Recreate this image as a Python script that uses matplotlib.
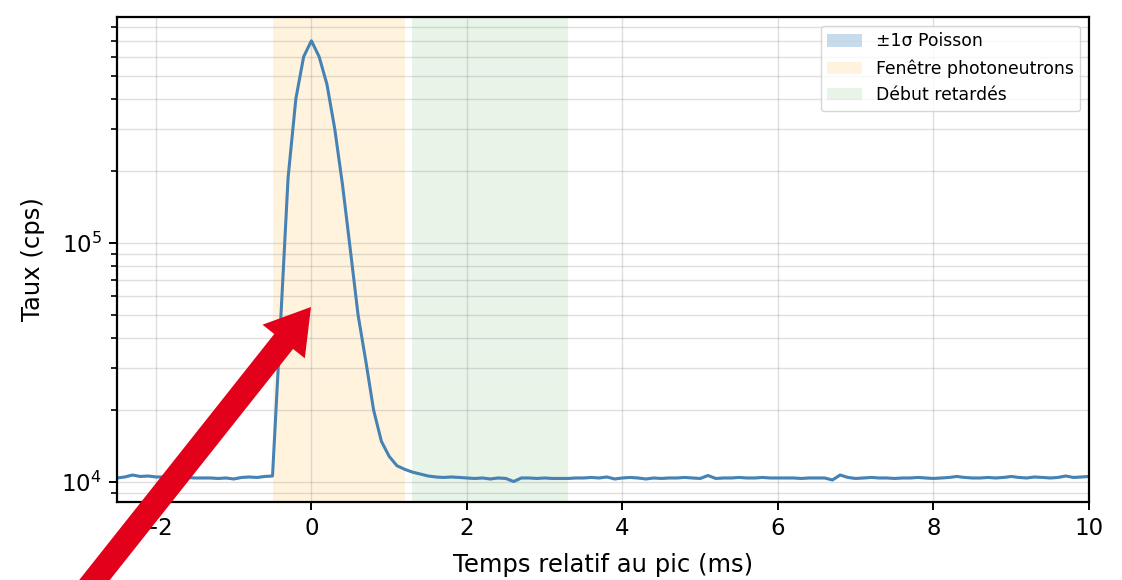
"""Count-rate profile around the pulse peak, log scale, with the analysis windows."""

from __future__ import annotations

import matplotlib

matplotlib.use("Agg")

import matplotlib.pyplot as plt
import numpy as np
from matplotlib.patches import FancyArrow
from matplotlib.transforms import IdentityTransform

# time grid (ms, relative to the peak), 0.1 ms bins
time_ms = np.round(np.arange(-25, 101) / 10.0, 1)

rate_before = [
    10400, 10500, 10700, 10550, 10600, 10500, 10500, 10450, 10500, 10450,
    10400, 10400, 10400, 10350, 10400, 10300, 10450, 10500, 10450, 10550,
    10600,
]
rate_pulse = [
    44000, 187000, 400000, 600000, 700000, 600000, 460000, 300000, 175000,
    94000, 50000, 32000, 20000, 14800, 12800, 11700, 11300, 11000, 10800,
    10600,
]
rate_after = [
    10500, 10450, 10500, 10450, 10400, 10350, 10400, 10300, 10400, 10350,
    10050, 10400, 10400, 10350, 10400, 10350, 10350, 10350, 10400, 10400,
    10450, 10400, 10500, 10300, 10400, 10450, 10400, 10300, 10400, 10350,
    10400, 10400, 10450, 10400, 10350, 10650, 10350, 10400, 10400, 10450,
    10400, 10400, 10450, 10400, 10400, 10400, 10400, 10350, 10400, 10400,
    10400, 10200, 10700, 10450, 10350, 10400, 10450, 10400, 10400, 10350,
    10400, 10400, 10450, 10400, 10350, 10400, 10450, 10550, 10450, 10400,
    10400, 10450, 10400, 10450, 10550, 10450, 10400, 10500, 10450, 10400,
    10450, 10600, 10450, 10500, 10550,
]

photoneutron_window = (-0.5, 1.2)
delayed_window = (1.3, 3.3)

W, H, DPI = 1122, 580, 100


def main() -> None:
    rate = np.asarray(rate_before + rate_pulse + rate_after, dtype=np.float64)
    assert rate.shape == time_ms.shape
    sigma = np.sqrt(rate)

    fig = plt.figure(figsize=(W / DPI, H / DPI), dpi=DPI)
    ax = fig.add_axes([117 / W, 78 / H, (1089 - 117) / W, (502 - 17) / H])

    ax.fill_between(
        time_ms, rate - sigma, rate + sigma,
        color="tab:blue", alpha=0.25, linewidth=0, label="±1σ Poisson",
    )
    ax.plot(time_ms, rate, color="steelblue", linewidth=2.2)
    ax.axvspan(*photoneutron_window, color="orange", alpha=0.13,
               linewidth=0, label="Fenêtre photoneutrons")
    ax.axvspan(*delayed_window, color="tab:green", alpha=0.11,
               linewidth=0, label="Début retardés")

    ax.set_yscale("log")
    ax.set_xlim(-2.5, 10.0)
    ax.set_ylim(8250, 8.8e5)
    ax.set_xlabel("Temps relatif au pic (ms)", fontsize=17.5, labelpad=9)
    ax.set_ylabel("Taux (cps)", fontsize=17.5, labelpad=12)
    ax.tick_params(axis="both", which="major", labelsize=16.5, length=6,
                   width=1.4, pad=5)
    ax.tick_params(axis="y", which="minor", length=4, width=1.2)
    ax.grid(True, which="both", color="0.5", alpha=0.25, linewidth=1.0)
    for spine in ax.spines.values():
        spine.set_linewidth(1.6)

    ax.legend(loc="upper right", fontsize=12.4, framealpha=0.8,
              borderaxespad=0.5, handlelength=2.0)

    # red pointer arrow drawn over the figure (pixel coordinates)
    tail = (85, -12)
    tip = (311, H - 307)
    fig.add_artist(
        FancyArrow(
            tail[0], tail[1], tip[0] - tail[0], tip[1] - tail[1],
            width=24, head_width=54, head_length=44,
            length_includes_head=True, color="#e2001a", linewidth=0,
            transform=IdentityTransform(), clip_on=False,
        )
    )

    fig.savefig("out.png", dpi=DPI)
    plt.close(fig)


if __name__ == "__main__":
    main()
